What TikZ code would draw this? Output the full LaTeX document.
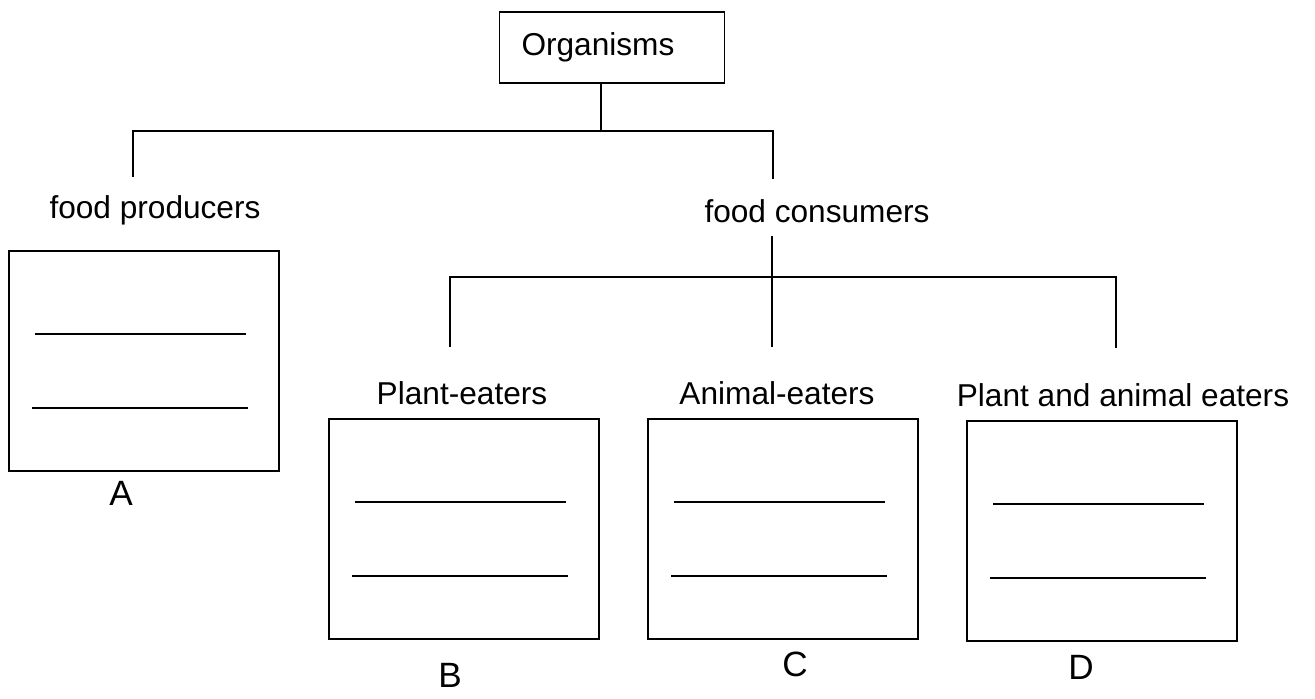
\documentclass[tikz,border=0pt]{standalone}
\usepackage{fontspec}
\setmainfont{Liberation Sans}
\begin{document}
\begin{tikzpicture}[x=0.02cm,y=-0.02cm,line width=1.1pt,
  every node/.style={font=\fontsize{18}{21}\selectfont},
  groupname/.style={anchor=base,inner sep=0pt},
  answerbox/.style={draw,anchor=north west,minimum width=5.4cm,minimum height=4.4cm,inner sep=0pt},
  boxletter/.style={font=\fontsize{20}{24}\selectfont}]
\useasboundingbox (0,0) rectangle (1315,698);

% top of the tree
\node[draw,minimum height=1.42cm,text width=3.62cm,align=left,inner xsep=0.44cm] (org) at (612,47.5) {Organisms};
\node[groupname] (prod) at (155,218) {food producers};
\node[groupname] (cons) at (817,222) {food consumers};

% consumer groups
\node[groupname] (plant) at (462,404) {Plant-eaters};
\node[groupname] (animal) at (777,404) {Animal-eaters};
\node[groupname] (both) at (1123,406) {Plant and animal eaters};

% answer boxes
\node[answerbox] (boxA) at (8,250) {};
\node[answerbox] (boxB) at (328,418) {};
\node[answerbox] (boxC) at (647,418) {};
\node[answerbox] (boxD) at (966,420) {};
\foreach \b in {boxA,boxB,boxC,boxD} {
  \draw ([shift={(27,84)}]\b.north west) -- ([shift={(238,84)}]\b.north west);
  \draw ([shift={(24,158)}]\b.north west) -- ([shift={(240,158)}]\b.north west);
}
\node[boxletter] (letA) at (121,493) {A};
\node[boxletter] (letB) at (450,675) {B};
\node[boxletter] (letC) at (795,664) {C};
\node[boxletter] (letD) at (1081,667) {D};

% branches
\coordinate (split) at (601,131);
\coordinate (prodtop) at (133,177);
\coordinate (constop) at (773,179);
\draw (org.south -| split) -- (split);
\draw (prodtop) |- (split) -| (constop);
\coordinate (consfoot) at (772,236);
\coordinate (fork) at (772,277);
\coordinate (forkend) at (772,347);
\coordinate (planttop) at (450,347);
\coordinate (bothtop) at (1116,348);
\draw (consfoot) -- (forkend);
\draw (planttop) |- (fork) -| (bothtop);
\end{tikzpicture}
\end{document}
